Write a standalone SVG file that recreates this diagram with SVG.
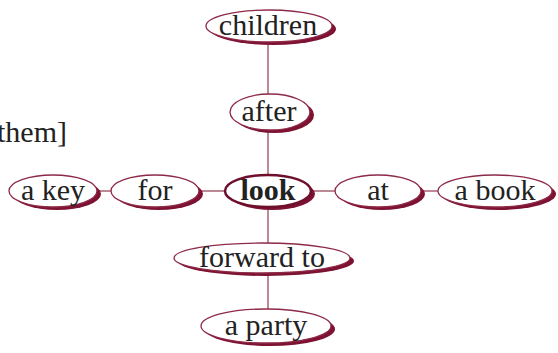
<svg xmlns="http://www.w3.org/2000/svg" width="558" height="353" viewBox="0 0 558 353">
<style>
.sh{fill:#7d1232}
.el{fill:#ffffff;stroke:#8e2a48;stroke-width:1.3}
.t{font-family:"Liberation Serif","Times New Roman",serif;font-size:30px;fill:#222;text-anchor:middle}
.c{stroke:#9a4a5e;stroke-width:1.3;fill:none}
</style>
<rect width="558" height="353" fill="#ffffff"/>
<g id="connectors">
<line class="c" x1="268" y1="40" x2="268" y2="312"/>
<line class="c" x1="96" y1="191" x2="112" y2="191"/>
<line class="c" x1="198" y1="191" x2="226" y2="191"/>
<line class="c" x1="310" y1="191" x2="336" y2="191"/>
<line class="c" x1="420" y1="191" x2="438" y2="191"/>
</g>
<text class="t" x="-3" y="142" style="text-anchor:start">them]</text>
<g id="children">
<ellipse class="sh" cx="273" cy="29" rx="63" ry="16"/>
<ellipse class="el" cx="269" cy="26" rx="63" ry="16"/>
<text class="t" x="268" y="35">children</text>
</g>
<g id="after">
<ellipse class="sh" cx="274" cy="115" rx="40" ry="18"/>
<ellipse class="el" cx="270" cy="112" rx="40" ry="18"/>
<text class="t" x="269" y="121">after</text>
</g>
<g id="akey">
<ellipse class="sh" cx="57" cy="194" rx="44" ry="16"/>
<ellipse class="el" cx="53" cy="191" rx="44" ry="16"/>
<text class="t" x="53" y="200">a key</text>
</g>
<g id="for">
<ellipse class="sh" cx="159" cy="194" rx="44" ry="16"/>
<ellipse class="el" cx="155" cy="191" rx="44" ry="16"/>
<text class="t" x="155" y="200">for</text>
</g>
<g id="look">
<ellipse class="sh" cx="272" cy="194" rx="43" ry="16"/>
<ellipse class="el" cx="268" cy="191" rx="43" ry="16" style="stroke-width:2.5;stroke:#6e0f2c"/>
<text class="t" x="268" y="200" style="font-weight:bold">look</text>
</g>
<g id="at">
<ellipse class="sh" cx="382" cy="194" rx="43" ry="16"/>
<ellipse class="el" cx="378" cy="191" rx="43" ry="16"/>
<text class="t" x="378" y="200">at</text>
</g>
<g id="abook">
<ellipse class="sh" cx="499" cy="194" rx="57" ry="16"/>
<ellipse class="el" cx="495" cy="191" rx="57" ry="16"/>
<text class="t" x="495" y="200">a book</text>
</g>
<g id="forwardto">
<ellipse class="sh" cx="266" cy="261" rx="88" ry="15"/>
<ellipse class="el" cx="262" cy="258" rx="88" ry="15"/>
<text class="t" x="262" y="267">forward to</text>
</g>
<g id="aparty">
<ellipse class="sh" cx="270" cy="329" rx="65" ry="17"/>
<ellipse class="el" cx="266" cy="326" rx="65" ry="17"/>
<text class="t" x="266" y="335">a party</text>
</g>
</svg>
